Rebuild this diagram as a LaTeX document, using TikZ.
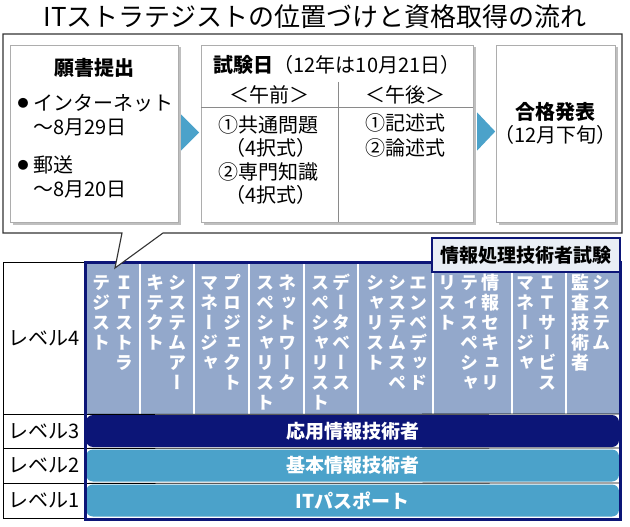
\documentclass[tikz,border=0pt]{standalone}
\usepackage{fontspec}
\setmainfont{Noto Sans CJK JP}
\newfontfamily\tatefont[RawFeature=+vert]{Noto Sans CJK JP}
\usetikzlibrary{calc,shadows}
\definecolor{Navy}{HTML}{0C1577}
\definecolor{Steel}{HTML}{93A8CB}
\definecolor{Sky}{HTML}{4BA2CA}
\definecolor{TagFill}{HTML}{E9EEF5}
\definecolor{Frame}{HTML}{333333}
\definecolor{Rule}{HTML}{8A8A8A}
% vertical text: one character per line
\newcommand\tatestack[1]{\vbox{\baselineskip=20pt\lineskiplimit=-20pt\expandafter\tatesplit#1\relax}}
\def\tatesplit#1{\ifx\relax#1\else\hbox to 20pt{\vrule height 15pt width 0pt\hss#1\hss}\expandafter\tatesplit\fi}
\tikzset{heading/.style={inner sep=0,font=\fontsize{26}{28}\selectfont},
  stepbox/.style={draw=Rule!70,fill=white,inner sep=0,
    drop shadow={shadow xshift=2.5pt,shadow yshift=-2.5pt,fill=black,opacity=0.25}},
  plaintext/.style={inner sep=0,font=\fontsize{20}{22}\selectfont},
  boldtext/.style={inner sep=0,font=\fontsize{20}{22}\selectfont\bfseries},
  flowarrow/.style={fill=Sky},
  innerrule/.style={draw=Rule,line width=0.8pt},
  callout/.style={draw=Frame,fill=white,line width=1.1pt},
  tate/.style={anchor=north,inner sep=0,text=white,font=\tatefont\fontsize{18}{20}\selectfont\bfseries},
  levelcell/.style={draw=black,line width=0.8pt,inner sep=0,font=\fontsize{20}{22}\selectfont},
  levelbar/.style={rounded corners=7pt,fill=Sky,text=white,inner sep=0,
    minimum width=533,minimum height=32,font=\fontsize{19}{21}\selectfont\bfseries},
  tagbox/.style={draw=Navy,line width=2.5pt,fill=TagFill,inner sep=0,
    minimum width=188,minimum height=34,font=\fontsize{19}{21}\selectfont\bfseries}}
\begin{document}
\begin{tikzpicture}[x=1pt,y=-1pt]
  \useasboundingbox (0,0) rectangle (630,527);
  \node[heading] (title) at (315,17) {ITストラテジストの位置づけと資格取得の流れ};

  % level table
  \node[levelcell,minimum width=82,minimum height=152] (lv4) at (44,338) {レベル4};
  \node[levelcell,minimum width=82,minimum height=34] (lv3) at (44,431) {レベル3};
  \node[levelcell,minimum width=82,minimum height=35] (lv2) at (44,465.5) {レベル2};
  \node[levelcell,minimum width=82,minimum height=35] (lv1) at (44,500.5) {レベル1};
  \fill[Steel] (85,262) rectangle (620,414);
  \foreach \x in {140,194,249,304,358,433,512,566}
    \draw[white,line width=1.2pt] (\x,262) -- (\x,414);
  \draw[black,line width=0.8pt] (lv4.south east) -- (620,414);
  \draw[black,line width=0.8pt] (lv3.south east) -- (620,448);
  \draw[black,line width=0.8pt] (lv2.south east) -- (620,483);
  \foreach \x/\txt/\n in {124/ＩＴストラ/t1a,101/テジスト/t1b,
      177/システムアー/t2a,155/キテクト/t2b,
      232/プロジェクト/t3a,209/マネージャ/t3b,
      287/ネットワーク/t4a,265/スペシャリスト/t4b,
      341/データベース/t5a,320/スペシャリスト/t5b,
      418/エンベデッド/t6a,397/システムスペ/t6b,375/シャリスト/t6c,
      490/情報セキュリ/t7a,469/ティスペシャ/t7b,447/リスト/t7c,
      547/ＩＴサービス/t8a,525/マネージャ/t8b,
      601/システム/t9a,580/監査技術者/t9b}
    \node[tate] (\n) at (\x,274) {\tatestack{\txt}};
  \node[levelbar,fill=Navy] (bar3) at (352.5,431) {応用情報技術者};
  \node[levelbar] (bar2) at (352.5,465.5) {基本情報技術者};
  \node[levelbar] (bar1) at (352.5,500.5) {ITパスポート};
  \draw[Navy,line width=3pt] (85,262) rectangle (620,519);
  \node[tagbox] (tag) at (526,255) {情報処理技術者試験};

  % flow of the exam
  \draw[callout] (3,34) -- (622,34) -- (622,233) -- (163,233) -- (115,268)
    -- (122,233) -- (3,233) -- cycle;
  \node[stepbox,minimum width=168,minimum height=177] (apply) at (94,133.5) {};
  \node[stepbox,minimum width=272,minimum height=177] (exam) at (337,133.5) {};
  \node[stepbox,minimum width=119,minimum height=177] (result) at (555.5,133.5) {};
  \fill[flowarrow] ($(apply.east)+(3,-19)$) -- ($(apply.east)+(21,-1)$) -- ($(apply.east)+(3,17)$) -- cycle;
  \fill[flowarrow] ($(exam.east)+(4,-21)$) -- ($(exam.east)+(22,-2)$) -- ($(exam.east)+(4,17)$) -- cycle;

  \node[boldtext] (applyhead) at (94,68) {願書提出};
  \node[inner sep=0,font=\fontsize{11}{12}\selectfont] (dot1) at (23,103) {●};
  \node[plaintext,anchor=west] (net) at (33,103) {インターネット};
  \node[plaintext,anchor=west] (netdate) at (33,127) {～8月29日};
  \node[inner sep=0,font=\fontsize{11}{12}\selectfont] (dot2) at (23,165) {●};
  \node[plaintext,anchor=west] (post) at (33,165) {郵送};
  \node[plaintext,anchor=west] (postdate) at (33,189) {～8月20日};

  \draw[innerrule] ($(exam.north west)+(0,63)$) -- ($(exam.north east)+(0,63)$);
  \draw[innerrule] ($(exam.north)+(1,37)$) -- ($(exam.south)+(1,0)$);
  \node[plaintext] (examhead) at (337,65) {\textbf{試験日}（12年は10月21日）};
  \node[plaintext] (am) at (269,95) {＜午前＞};
  \node[plaintext] (pm) at (405,95) {＜午後＞};
  \node[plaintext] (am1) at (268,125) {①共通問題};
  \node[plaintext] (am1a) at (271,148) {（4択式）};
  \node[plaintext] (am2) at (268,172) {②専門知識};
  \node[plaintext] (am2a) at (271,195) {（4択式）};
  \node[plaintext] (pm1) at (405,123) {①記述式};
  \node[plaintext] (pm2) at (405,148) {②論述式};

  \node[boldtext] (resulthead) at (555.5,112) {合格発表};
  \node[plaintext] (resultdate) at (555.5,135) {（12月下旬）};
\end{tikzpicture}
\end{document}
